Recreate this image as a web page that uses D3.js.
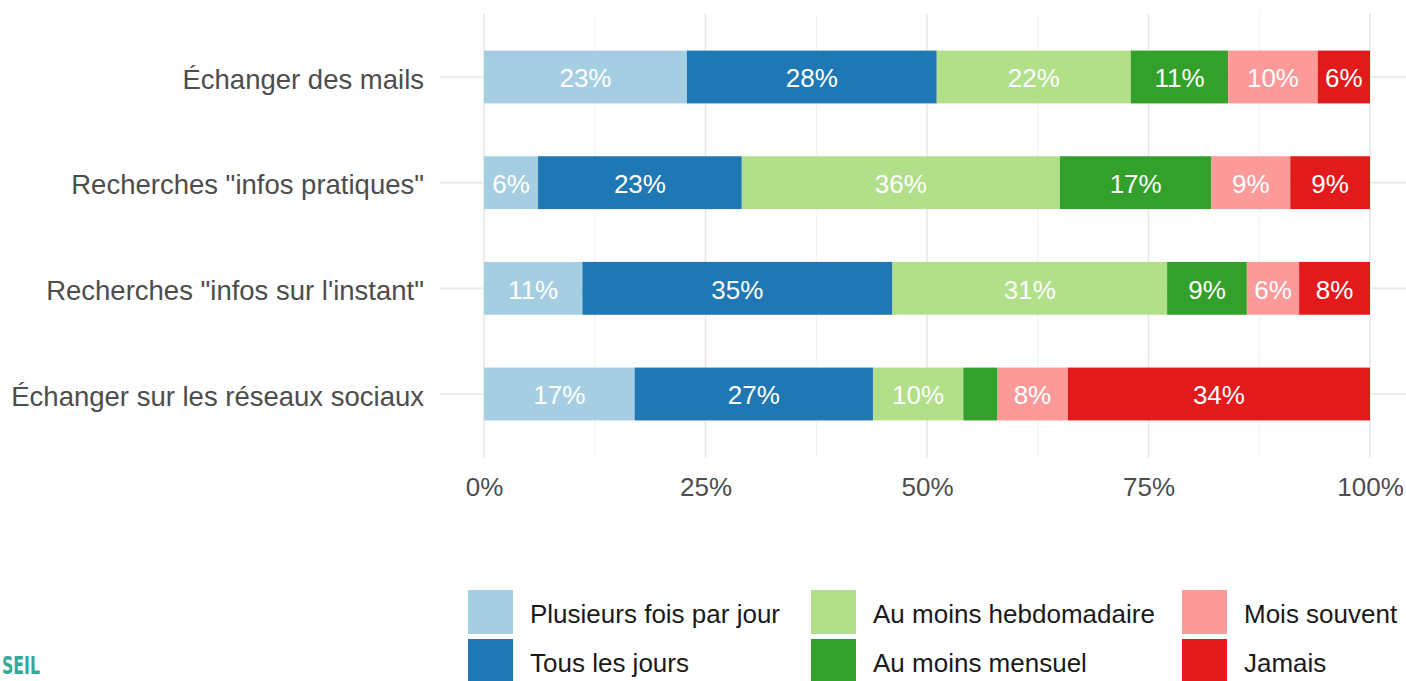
<!DOCTYPE html>
<html lang="fr">
<head>
    <meta charset="UTF-8">
    <title>Usages internet</title>
    <script src="https://d3js.org/d3.v7.min.js"></script>
    <style>
        body { margin: 0; background: #fff; }
        svg { display: block; font-family: "Liberation Sans", Arial, sans-serif; }
        .axis text { fill: #4d4d4d; }
        .axis path { display: none; }
        .label { fill: #fff; text-anchor: middle; }
    </style>
</head>
<body>
    <svg id="chart" width="1406" height="681"></svg>

    <script>
        // données (en %)
        const categories = [
            "Échanger des mails",
            "Recherches \"infos pratiques\"",
            "Recherches \"infos sur l'instant\"",
            "Échanger sur les réseaux sociaux"
        ];
        const frequences = ["Plusieurs fois par jour", "Tous les jours", "Au moins hebdomadaire",
                            "Au moins mensuel", "Mois souvent", "Jamais"];

        const plusieursFois = [22.9, 6.1, 11.1, 17.0];
        const tousLesJours  = [28.2, 23.0, 35.0, 26.9];
        const hebdomadaire  = [21.9, 35.9, 31.0, 10.2];
        const mensuel       = [11.0, 17.1, 9.0, 3.8];
        const moinsSouvent  = [10.1, 8.9, 5.9, 8.0];
        const jamais        = [5.9, 9.0, 8.0, 34.1];

        const xTicks = [0, 25, 50, 75, 100];
        const xMinor = [12.5, 37.5, 62.5, 87.5];

        const couleurs = ["#a6cee3", "#1f78b4", "#b2df8a", "#33a02c", "#fb9a99", "#e31a1c"];

        const series = [plusieursFois, tousLesJours, hebdomadaire, mensuel, moinsSouvent, jamais];

        // table pour d3.stack
        const table = categories.map((c, i) => {
            const row = { cat: c };
            frequences.forEach((f, j) => row[f] = series[j][i]);
            return row;
        });
        const stacked = d3.stack().keys(frequences)(table);

        const svg = d3.select("#chart");

        const panel = { left: 440, right: 1414, top: 13.6, bottom: 457.4 };

        const x = d3.scaleLinear()
                    .domain([0, 100])
                    .range([484, 1370]);

        const y = d3.scaleBand()
                    .domain(categories)
                    .range([panel.top, panel.bottom])
                    .paddingInner(0.5)
                    .paddingOuter(0.35);

        const color = d3.scaleOrdinal().domain(frequences).range(couleurs);

        // grille
        const grid = svg.append("g").attr("class", "grid");
        grid.selectAll(".minor")
            .data(xMinor)
            .enter().append("line")
            .attr("x1", d => x(d)).attr("x2", d => x(d))
            .attr("y1", panel.top).attr("y2", panel.bottom)
            .attr("stroke", "#f0f0f0").attr("stroke-width", 1);
        grid.selectAll(".major")
            .data(xTicks)
            .enter().append("line")
            .attr("x1", d => x(d)).attr("x2", d => x(d))
            .attr("y1", panel.top).attr("y2", panel.bottom)
            .attr("stroke", "#e8e8e8").attr("stroke-width", 1.6);
        grid.selectAll(".hline")
            .data(categories)
            .enter().append("line")
            .attr("x1", panel.left).attr("x2", panel.right)
            .attr("y1", d => y(d) + y.bandwidth() / 2)
            .attr("y2", d => y(d) + y.bandwidth() / 2)
            .attr("stroke", "#e8e8e8").attr("stroke-width", 1.6);

        // barres
        const layers = svg.selectAll(".layer")
            .data(stacked)
            .enter().append("g")
            .attr("class", "layer")
            .attr("fill", d => color(d.key));

        layers.selectAll("rect")
            .data(d => d)
            .enter().append("rect")
            .attr("x", d => x(d[0]))
            .attr("y", d => y(d.data.cat))
            .attr("width", d => x(d[1]) - x(d[0]))
            .attr("height", y.bandwidth());

        layers.selectAll(".label")
            .data(d => d.filter(p => p[1] - p[0] >= 5))
            .enter().append("text")
            .attr("class", "label")
            .attr("x", d => (x(d[0]) + x(d[1])) / 2)
            .attr("y", d => y(d.data.cat) + y.bandwidth() / 2)
            .attr("dy", "0.4em")
            .style("font-size", "26px")
            .text(d => Math.round(d[1] - d[0]) + "%");

        // axes
        svg.append("g")
           .attr("class", "axis")
           .attr("transform", `translate(0, ${panel.bottom})`)
           .call(d3.axisBottom(x).tickValues(xTicks).tickSize(0).tickPadding(20).tickFormat(d => d + "%"))
           .selectAll("text")
           .style("font-size", "26px");

        svg.append("g")
           .attr("class", "axis")
           .attr("transform", `translate(${panel.left}, 0)`)
           .call(d3.axisLeft(y).tickSize(0).tickPadding(16))
           .selectAll("text")
           .attr("dy", "0.42em")
           .style("font-size", "27.5px");

        // légende (3 colonnes x 2 lignes)
        const key = 44, keyGap = 5, textGap = 17;
        const colonnes = [0, 343, 714];
        const legend = svg.append("g").attr("transform", "translate(468, 590)");
        frequences.forEach((f, i) => {
            const c = Math.floor(i / 2), r = i % 2;
            const g = legend.append("g")
                .attr("transform", `translate(${colonnes[c]}, ${r * (key + keyGap)})`);
            g.append("rect")
             .attr("width", key + 1).attr("height", key)
             .attr("fill", color(f));
            g.append("text")
             .attr("x", key + 1 + textGap)
             .attr("y", key / 2)
             .attr("dy", "0.42em")
             .attr("fill", "#1a1a1a")
             .style("font-size", "26px")
             .text(f);
        });

        // logo
        svg.append("text")
           .attr("x", 2).attr("y", 674)
           .attr("fill", "#35a89b")
           .attr("textLength", 38)
           .attr("lengthAdjust", "spacingAndGlyphs")
           .style("font-family", "'DejaVu Sans Condensed', sans-serif")
           .style("font-weight", "bold")
           .style("font-size", "25px")
           .text("SEIL");
    </script>
</body>
</html>
